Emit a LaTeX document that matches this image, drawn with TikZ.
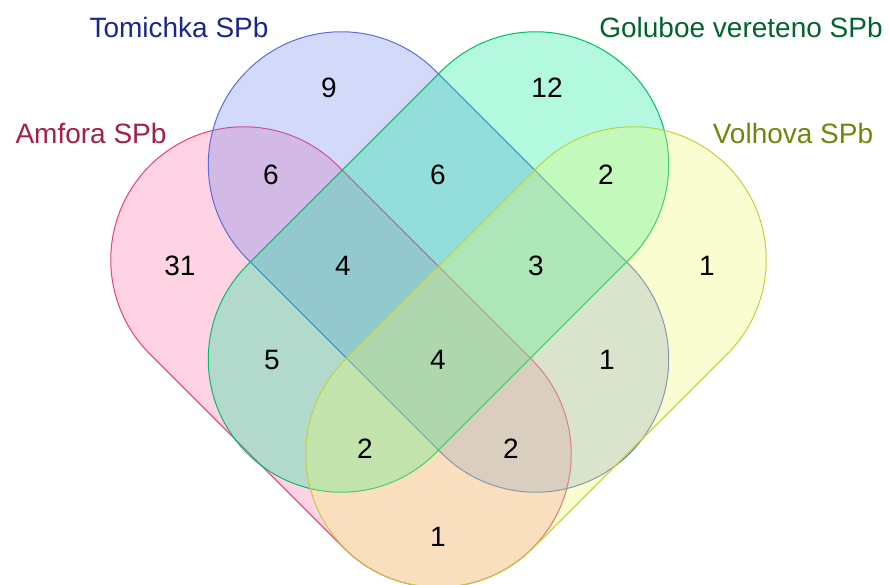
\documentclass[tikz,border=0pt]{standalone}
\usepackage{fontspec}
\setmainfont{Liberation Sans}
\usetikzlibrary{calc}
\definecolor{amFill}{RGB}{255,110,165}
\definecolor{amLine}{RGB}{240,60,120}
\definecolor{amText}{RGB}{165,30,75}
\definecolor{toFill}{RGB}{110,130,235}
\definecolor{toLine}{RGB}{90,110,210}
\definecolor{toText}{RGB}{25,40,140}
\definecolor{goFill}{RGB}{0,235,150}
\definecolor{goLine}{RGB}{0,190,100}
\definecolor{goText}{RGB}{0,100,45}
\definecolor{voFill}{RGB}{235,250,100}
\definecolor{voLine}{RGB}{190,210,60}
\definecolor{voText}{RGB}{110,135,10}
% #1 = midpoint, #2 = axis angle, #3 = fill, #4 = line
\newcommand{\vennstadium}[4]{%
  \draw[line width=1pt, draw=#4, fill=#3, fill opacity=0.3, draw opacity=1]
    ($(#1)+(#2+180:137.5)+(#2+90:133)$) -- ++(#2:275)
    arc[start angle=#2+90, end angle=#2-90, radius=133]
    -- ++(#2+180:275)
    arc[start angle=#2-90, end angle=#2-270, radius=133] -- cycle;}
\tikzset{
  setlabel/.style={font=\fontsize{28}{32}\selectfont, inner sep=0pt},
  count/.style={font=\fontsize{28}{32}\selectfont, inner sep=0pt, text=black}
}
\begin{document}
\begin{tikzpicture}[x=1pt,y=-1pt]
\useasboundingbox (0,0) rectangle (889,584);
\coordinate (mA) at (341,357);
\coordinate (mT) at (438.5,262);
\coordinate (mG) at (438.5,262);
\coordinate (mV) at (536,357);
\vennstadium{mA}{45}{amFill}{amLine}
\vennstadium{mT}{45}{toFill}{toLine}
\vennstadium{mG}{135}{goFill}{goLine}
\vennstadium{mV}{135}{voFill}{voLine}

\node[setlabel, text=toText] (lT) at (179,27) {Tomichka SPb};
\node[setlabel, text=amText] (lA) at (91,133) {Amfora SPb};
\node[setlabel, text=goText] (lG) at (741,27) {Goluboe vereteno SPb};
\node[setlabel, text=voText] (lV) at (793,133) {Volhova SPb};

\node[count] (n1) at (329,88) {9};
\node[count] (n2) at (547,88) {12};
\node[count] (n3) at (271,175) {6};
\node[count] (n4) at (438,175) {6};
\node[count] (n5) at (606,175) {2};
\node[count] (n6) at (180,266) {31};
\node[count] (n7) at (343,266) {4};
\node[count] (n8) at (536,266) {3};
\node[count] (n9) at (707,266) {1};
\node[count] (n10) at (272,360) {5};
\node[count] (n11) at (438,360) {4};
\node[count] (n12) at (607,360) {1};
\node[count] (n13) at (365,449) {2};
\node[count] (n14) at (511,449) {2};
\node[count] (n15) at (438,537) {1};
\end{tikzpicture}
\end{document}
